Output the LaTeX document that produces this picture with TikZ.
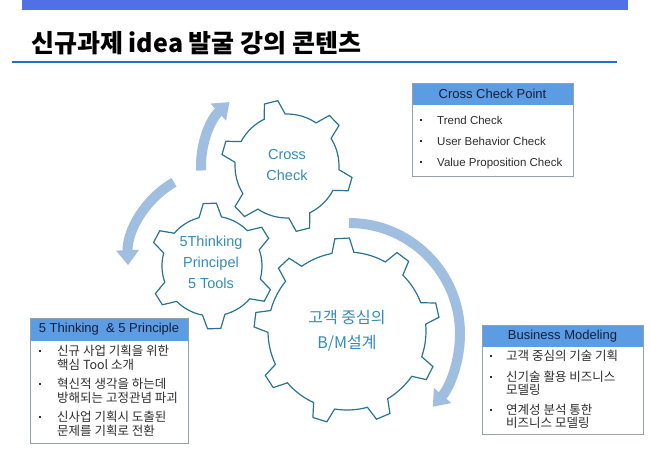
\documentclass[tikz,border=0pt]{standalone}
\usepackage{fontspec}
\setmainfont{Liberation Sans}
\newfontfamily\kr{Noto Sans CJK KR}
\usetikzlibrary{arrows.meta}
\definecolor{topbar}{RGB}{80,112,230}
\definecolor{titleline}{RGB}{40,110,210}
\definecolor{arrowblue}{RGB}{160,190,224}
\definecolor{gearedge}{RGB}{40,115,145}
\definecolor{geartxt}{RGB}{50,140,185}
\definecolor{headfill}{RGB}{92,156,226}
\definecolor{headtxt}{RGB}{20,30,60}
\definecolor{boxedge}{RGB}{150,160,170}
\definecolor{itemtxt}{RGB}{45,45,45}

\newcommand{\cog}[7]{%
  \pgfmathtruncatemacro\cogn{#2-1}%
  \draw[gearline, shift={(#1)}] ({#5-#7}:#3)
    \foreach \i [evaluate=\i as \ang using #5+\i*360/#2] in {0,...,\cogn}
      { -- ({\ang-#7}:#3) -- ({\ang-#6}:#4) -- ({\ang+#6}:#4) -- ({\ang+#7}:#3)
        arc[start angle={\ang+#7}, end angle={\ang+360/#2-#7}, radius=#3] } -- cycle;}

\begin{document}
\begin{tikzpicture}[x=1pt, y=1pt,
    band/.style={line width=10pt, draw=arrowblue, -{Triangle[width=22pt,length=15pt]}},
    gearline/.style={draw=gearedge, line width=1.2pt, line join=miter},
    geartext/.style={text=geartxt, align=center, inner sep=0pt},
    title/.style={font=\kr\bfseries\fontsize{25}{29}\selectfont, inner sep=0pt, anchor=base west},
    head/.style={font=\fontsize{13}{15}\selectfont, text=headtxt, inner sep=0pt},
    item/.style={anchor=west, inner sep=0pt, text height=9pt, text depth=0pt, text=itemtxt},
    enitem/.style={item, font=\fontsize{11.5}{13}\selectfont},
    kritem/.style={item, font=\kr\fontsize{12.5}{14}\selectfont},
    bul/.style={fill=itemtxt, inner sep=0pt, minimum size=2.2pt}]
    \useasboundingbox (0,0) rectangle (650,450);
    \fill[topbar] (22,440) rectangle (628,450);
    \node[title] (title) at (31,397) {신규과제 idea 발굴 강의 콘텐츠};
    \draw[titleline, line width=2pt] (12,387.5) -- (617,387.5);

    \draw[band] ([shift={(183:86)}]287,284) arc[start angle=183, end angle=132, radius=86];
    \draw[band] ([shift={(120:92)}]220,188) arc[start angle=120, end angle=182, radius=92];
    \draw[band] ([shift={(90:111)}]349,116) arc[start angle=90, end angle=-41, radius=111];

    \cog{287,284}{6}{52}{66}{104}{6}{12}
    \cog{212,184}{6}{50}{63}{92}{6}{13}
    \cog{347,119}{9}{79}{93}{93}{4.5}{8}

    \node[geartext, font=\fontsize{14.5}{21}\selectfont] (cross) at (287,284.5) {Cross\\Check};
    \node[geartext, font=\fontsize{14.5}{21}\selectfont] (think) at (211,188) {5Thinking\\Principel\\5 Tools};
    \node[geartext, font=\kr\fontsize{16}{25}\selectfont] (bm) at (347,119.5) {고객 중심의\\B/M설계};

    \fill[headfill] (412,344.5) rectangle (573,367);
    \draw[boxedge] (412,274) rectangle (573,367);
    \node[head] (cchead) at (492.5,355.7) {Cross Check Point};
    \foreach \y/\t [count=\n] in {330/Trend Check, 309/User Behavior Check, 288/Value Proposition Check}
      {\node[bul] (ccb\n) at (421,\y) {};
       \node[enitem] (cc\n) at (437,\y) {\t};}

    \fill[headfill] (30,109) rectangle (188,132);
    \draw[boxedge] (30,7) rectangle (188,132);
    \node[head] (thhead) at (109,120.5) {5 Thinking~ \& 5 Principle};
    \foreach \y in {99,66,33} \node[bul] (thb\y) at (40,\y) {};
    \foreach \y/\t in {99/신규 사업 기획을 위한, 85/핵심 Tool 소개, 66/혁신적 생각을 하는데,
        52/방해되는 고정관념 파괴, 33/신사업 기획시 도출된, 19/문제를 기획로 전환}
      \node[kritem] (th\y) at (57,\y) {\t};

    \fill[headfill] (482,103) rectangle (643,125);
    \draw[boxedge] (482,16) rectangle (643,125);
    \node[head] (bmhead) at (562.5,114) {Business Modeling};
    \foreach \y in {94,73,40} \node[bul] (bmb\y) at (491,\y) {};
    \foreach \y/\t in {94/고객 중심의 기술 기획, 73/신기술 활용 비즈니스, 60/모델링,
        40/연계성 분석 통한, 27/비즈니스 모델링}
      \node[kritem] (bm\y) at (506,\y) {\t};
\end{tikzpicture}
\end{document}
